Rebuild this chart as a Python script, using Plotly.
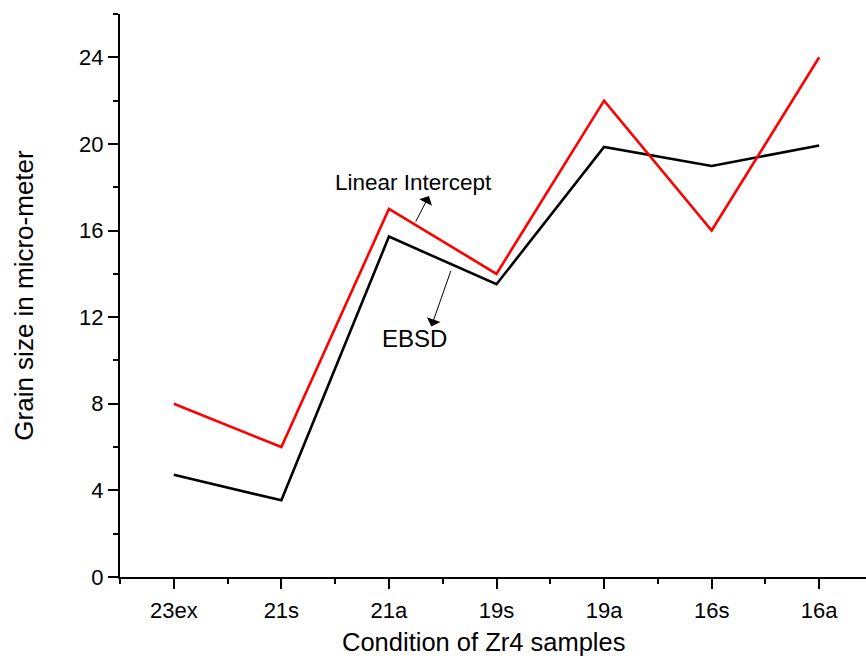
import plotly.graph_objects as go

# Zr4 sample conditions along the x axis
categories = ["23ex", "21s", "21a", "19s", "19a", "16s", "16a"]

# Grain size (micro-meter) by measurement method
linear_intercept = [8.0, 6.0, 17.0, 14.0, 22.0, 16.0, 24.0]
ebsd = [4.72, 3.54, 15.72, 13.52, 19.86, 18.98, 19.93]

y_ticks = [0, 4, 8, 12, 16, 20, 24]

x_pos = list(range(len(categories)))
FONT = "Liberation Sans, Arial, sans-serif"

fig = go.Figure()
fig.add_trace(go.Scatter(
    x=x_pos, y=ebsd, mode="lines", name="EBSD",
    line=dict(color="#000000", width=2.6), showlegend=False,
))
fig.add_trace(go.Scatter(
    x=x_pos, y=linear_intercept, mode="lines", name="Linear Intercept",
    line=dict(color="#ff0000", width=2.6), showlegend=False,
))

# Callout labels with thin arrows pointing to each curve
fig.add_annotation(
    x=2.372, y=17.59, xref="x", yref="y",
    ax=-14, ay=27, axref="pixel", ayref="pixel",
    text="", showarrow=True, arrowhead=1, arrowsize=2.4,
    arrowwidth=1, arrowcolor="#000000",
)
fig.add_annotation(
    x=2.23, y=18.2, xref="x", yref="y", text="Linear Intercept",
    showarrow=False, font=dict(family=FONT, size=22.5, color="#000000"),
)
fig.add_annotation(
    x=2.394, y=11.57, xref="x", yref="y",
    ax=20, ay=-57, axref="pixel", ayref="pixel",
    text="", showarrow=True, arrowhead=1, arrowsize=2.4,
    arrowwidth=1, arrowcolor="#000000",
)
fig.add_annotation(
    x=2.236, y=11.0, xref="x", yref="y", text="EBSD",
    showarrow=False, font=dict(family=FONT, size=24, color="#000000"),
)

# X axis title
fig.add_annotation(
    x=0.4866, y=-0.116, xref="paper", yref="paper",
    text="Condition of Zr4 samples", showarrow=False,
    xanchor="center", yanchor="middle",
    font=dict(family=FONT, size=25.5, color="#000000"),
)

fig.update_layout(
    width=866, height=659,
    margin=dict(l=120, r=0, t=14, b=82),
    paper_bgcolor="white", plot_bgcolor="white",
    font=dict(family=FONT, color="#000000"),
)

fig.update_xaxes(
    range=[-0.5, 6.435],
    tickmode="array", tickvals=x_pos, ticktext=categories,
    ticks="outside", ticklen=10, tickwidth=2, tickcolor="#000000",
    tickfont=dict(family=FONT, size=22), ticklabelstandoff=3,
    minor=dict(tick0=0.5, dtick=1, ticks="outside", ticklen=5,
               tickwidth=2, tickcolor="#000000", showgrid=False),
    showline=True, linecolor="#000000", linewidth=2,
    showgrid=False, zeroline=False,
)
fig.update_yaxes(
    range=[0, 26],
    tickmode="array", tickvals=y_ticks,
    ticks="outside", ticklen=10, tickwidth=2, tickcolor="#000000",
    tickfont=dict(family=FONT, size=22),
    minor=dict(tick0=0, dtick=2, ticks="outside", ticklen=5,
               tickwidth=2, tickcolor="#000000", showgrid=False),
    showline=True, linecolor="#000000", linewidth=2,
    showgrid=False, zeroline=False,
    title=dict(text="Grain size in micro-meter",
               font=dict(family=FONT, size=26), standoff=38),
)

fig.write_html("out.html")
